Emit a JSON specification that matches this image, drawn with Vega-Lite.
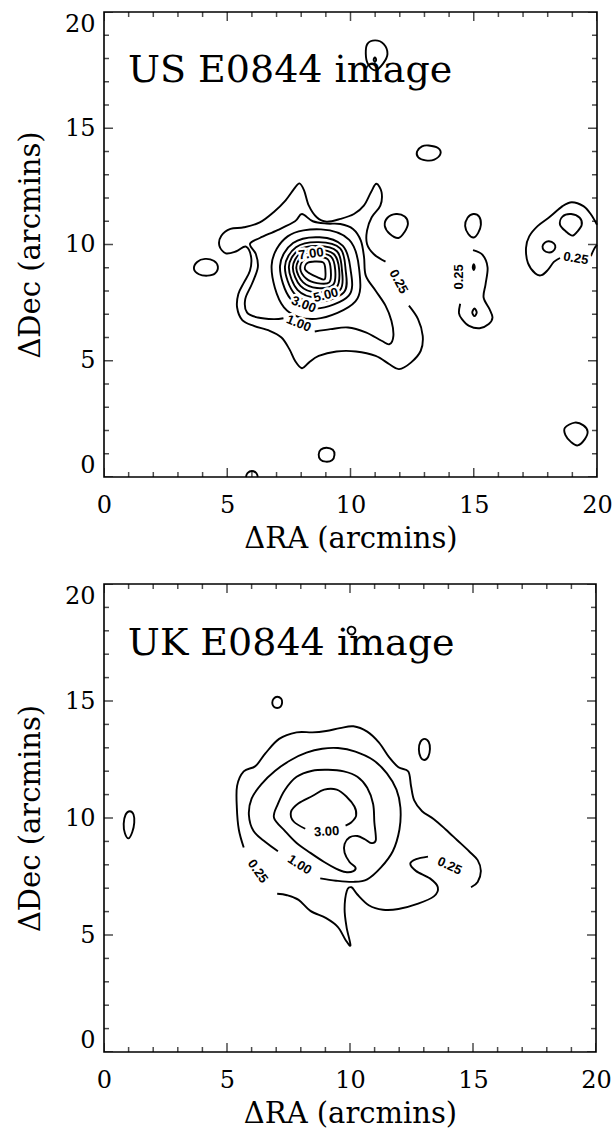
{
"$schema": "https://vega.github.io/schema/vega-lite/v6.json",
"padding": {"left": 15, "top": 11, "right": 0, "bottom": 0},
"spacing": 29,
"config": {
  "view": {"stroke": "black", "strokeWidth": 1.6},
  "axis": {"labelFont": "DejaVu Serif", "labelFontSize": 24, "titleFont": "DejaVu Serif", "titleFontSize": 29, "titleFontWeight": "normal", "labelColor": "black", "titleColor": "black", "grid": false, "labelOverlap": false, "ticks": false, "domain": false}
},
"datasets": {
  "ticks": [
    {"v":0,"k":"major"},{"v":1,"k":"minor"},{"v":2,"k":"minor"},{"v":3,"k":"minor"},{"v":4,"k":"minor"},{"v":5,"k":"major"},{"v":6,"k":"minor"},{"v":7,"k":"minor"},{"v":8,"k":"minor"},{"v":9,"k":"minor"},{"v":10,"k":"major"},{"v":11,"k":"minor"},{"v":12,"k":"minor"},{"v":13,"k":"minor"},{"v":14,"k":"minor"},{"v":15,"k":"major"},{"v":16,"k":"minor"},{"v":17,"k":"minor"},{"v":18,"k":"minor"},{"v":19,"k":"minor"},{"v":20,"k":"major"}
  ],
  "usOpen": [
    {"c":"A","i":0,"x":12.37,"y":7.37},{"c":"A","i":1,"x":12.74,"y":6.79},{"c":"A","i":2,"x":12.93,"y":6.07},{"c":"A","i":3,"x":12.85,"y":5.43},{"c":"A","i":4,"x":12.45,"y":4.92},{"c":"A","i":5,"x":11.97,"y":4.64},{"c":"A","i":6,"x":11.58,"y":4.85},{"c":"A","i":7,"x":11.02,"y":5.21},{"c":"A","i":8,"x":10.22,"y":5.40},{"c":"A","i":9,"x":9.43,"y":5.40},{"c":"A","i":10,"x":8.71,"y":5.21},{"c":"A","i":11,"x":8.31,"y":4.92},{"c":"A","i":12,"x":8.03,"y":4.68},{"c":"A","i":13,"x":7.75,"y":5.00},{"c":"A","i":14,"x":7.52,"y":5.50},{"c":"A","i":15,"x":7.20,"y":6.00},{"c":"A","i":16,"x":6.72,"y":6.29},{"c":"A","i":17,"x":6.08,"y":6.50},{"c":"A","i":18,"x":5.61,"y":6.75},{"c":"A","i":19,"x":5.40,"y":7.29},{"c":"A","i":20,"x":5.45,"y":7.87},{"c":"A","i":21,"x":5.68,"y":8.37},{"c":"A","i":22,"x":5.92,"y":8.87},{"c":"A","i":23,"x":5.97,"y":9.45},{"c":"A","i":24,"x":5.76,"y":9.91},{"c":"A","i":25,"x":5.37,"y":9.71},{"c":"A","i":26,"x":4.94,"y":9.62},{"c":"A","i":27,"x":4.68,"y":9.95},{"c":"A","i":28,"x":4.76,"y":10.38},{"c":"A","i":29,"x":5.13,"y":10.67},{"c":"A","i":30,"x":5.68,"y":10.74},{"c":"A","i":31,"x":6.32,"y":10.95},{"c":"A","i":32,"x":6.88,"y":11.39},{"c":"A","i":33,"x":7.36,"y":11.89},{"c":"A","i":34,"x":7.71,"y":12.39},{"c":"A","i":35,"x":7.93,"y":12.63},{"c":"A","i":36,"x":8.12,"y":12.32},{"c":"A","i":37,"x":8.31,"y":11.67},{"c":"A","i":38,"x":8.63,"y":11.17},{"c":"A","i":39,"x":9.03,"y":10.98},{"c":"A","i":40,"x":9.59,"y":11.10},{"c":"A","i":41,"x":10.14,"y":11.31},{"c":"A","i":42,"x":10.54,"y":11.67},{"c":"A","i":43,"x":10.83,"y":12.25},{"c":"A","i":44,"x":11.05,"y":12.61},{"c":"A","i":45,"x":11.26,"y":12.25},{"c":"A","i":46,"x":11.21,"y":11.67},{"c":"A","i":47,"x":10.86,"y":11.17},{"c":"A","i":48,"x":10.67,"y":10.60},{"c":"A","i":49,"x":10.67,"y":10.02},{"c":"A","i":50,"x":10.94,"y":9.59},{"c":"A","i":51,"x":11.42,"y":9.26},
    {"c":"B","i":0,"x":8.55,"y":6.26},{"c":"B","i":1,"x":9.19,"y":6.36},{"c":"B","i":2,"x":9.90,"y":6.43},{"c":"B","i":3,"x":10.62,"y":6.22},{"c":"B","i":4,"x":11.26,"y":5.86},{"c":"B","i":5,"x":11.58,"y":5.71},{"c":"B","i":6,"x":11.74,"y":6.07},{"c":"B","i":7,"x":11.66,"y":6.72},{"c":"B","i":8,"x":11.42,"y":7.37},{"c":"B","i":9,"x":11.02,"y":8.01},{"c":"B","i":10,"x":10.62,"y":8.66},{"c":"B","i":11,"x":10.55,"y":9.45},{"c":"B","i":12,"x":10.42,"y":10.17},{"c":"B","i":13,"x":10.10,"y":10.67},{"c":"B","i":14,"x":9.59,"y":10.88},{"c":"B","i":15,"x":9.03,"y":10.90},{"c":"B","i":16,"x":8.47,"y":11.00},{"c":"B","i":17,"x":8.03,"y":11.31},{"c":"B","i":18,"x":7.75,"y":11.00},{"c":"B","i":19,"x":7.04,"y":10.62},{"c":"B","i":20,"x":6.32,"y":10.28},{"c":"B","i":21,"x":5.92,"y":10.02},{"c":"B","i":22,"x":6.16,"y":9.59},{"c":"B","i":23,"x":6.24,"y":9.02},{"c":"B","i":24,"x":6.00,"y":8.30},{"c":"B","i":25,"x":5.73,"y":7.65},{"c":"B","i":26,"x":5.80,"y":7.08},{"c":"B","i":27,"x":6.24,"y":6.86},{"c":"B","i":28,"x":6.88,"y":6.79},{"c":"B","i":29,"x":7.28,"y":6.83},
    {"c":"T7","i":0,"x":5.76,"y":0.0},{"c":"T7","i":1,"x":5.82,"y":0.17},{"c":"T7","i":2,"x":6.0,"y":0.26},{"c":"T7","i":3,"x":6.18,"y":0.17},{"c":"T7","i":4,"x":6.24,"y":0.0},
    {"c":"T9","i":0,"x":20.0,"y":10.85},{"c":"T9","i":1,"x":19.75,"y":11.3},{"c":"T9","i":2,"x":19.45,"y":11.65},{"c":"T9","i":3,"x":18.98,"y":11.82},{"c":"T9","i":4,"x":18.6,"y":11.65},{"c":"T9","i":5,"x":18.1,"y":11.2},{"c":"T9","i":6,"x":17.6,"y":10.8},{"c":"T9","i":7,"x":17.25,"y":10.35},{"c":"T9","i":8,"x":17.12,"y":9.85},{"c":"T9","i":9,"x":17.2,"y":9.2},{"c":"T9","i":10,"x":17.5,"y":8.75},{"c":"T9","i":11,"x":17.75,"y":8.68},{"c":"T9","i":12,"x":18.0,"y":8.9},{"c":"T9","i":13,"x":18.25,"y":9.25},{"c":"T9","i":14,"x":18.5,"y":9.42},
    {"c":"T9b","i":0,"x":19.75,"y":9.5},{"c":"T9b","i":1,"x":19.88,"y":9.8},{"c":"T9b","i":2,"x":20.0,"y":9.98},
    {"c":"T12","i":0,"x":14.97,"y":9.76},{"c":"T12","i":1,"x":15.35,"y":9.56},{"c":"T12","i":2,"x":15.56,"y":9.02},{"c":"T12","i":3,"x":15.48,"y":8.30},{"c":"T12","i":4,"x":15.40,"y":7.72},{"c":"T12","i":5,"x":15.64,"y":7.22},{"c":"T12","i":6,"x":15.76,"y":6.86},{"c":"T12","i":7,"x":15.61,"y":6.58},{"c":"T12","i":8,"x":15.24,"y":6.40},{"c":"T12","i":9,"x":14.81,"y":6.50},{"c":"T12","i":10,"x":14.52,"y":6.79},{"c":"T12","i":11,"x":14.40,"y":7.05},{"c":"T12","i":12,"x":14.45,"y":7.45}
  ],
  "usClosed": [
    {"c":"T1","i":0,"x":11.0,"y":18.78},{"c":"T1","i":1,"x":11.35,"y":18.62},{"c":"T1","i":2,"x":11.5,"y":18.2},{"c":"T1","i":3,"x":11.32,"y":17.78},{"c":"T1","i":4,"x":11.0,"y":17.49},{"c":"T1","i":5,"x":10.7,"y":17.78},{"c":"T1","i":6,"x":10.62,"y":18.2},{"c":"T1","i":7,"x":10.68,"y":18.62},
    {"c":"T1d","i":0,"x":10.99,"y":18.05},{"c":"T1d","i":1,"x":11.04,"y":17.95},{"c":"T1d","i":2,"x":10.99,"y":17.85},{"c":"T1d","i":3,"x":10.94,"y":17.95},
    {"c":"T2","i":0,"x":13.17,"y":14.26},{"c":"T2","i":1,"x":13.55,"y":14.15},{"c":"T2","i":2,"x":13.65,"y":13.9},{"c":"T2","i":3,"x":13.4,"y":13.65},{"c":"T2","i":4,"x":13.05,"y":13.62},{"c":"T2","i":5,"x":12.75,"y":13.75},{"c":"T2","i":6,"x":12.7,"y":14.0},{"c":"T2","i":7,"x":12.9,"y":14.22},
    {"c":"T3","i":0,"x":11.85,"y":11.31},{"c":"T3","i":1,"x":12.2,"y":11.2},{"c":"T3","i":2,"x":12.33,"y":10.9},{"c":"T3","i":3,"x":12.2,"y":10.55},{"c":"T3","i":4,"x":11.95,"y":10.28},{"c":"T3","i":5,"x":11.6,"y":10.45},{"c":"T3","i":6,"x":11.39,"y":10.8},{"c":"T3","i":7,"x":11.5,"y":11.15},
    {"c":"T4","i":0,"x":14.98,"y":11.31},{"c":"T4","i":1,"x":15.22,"y":11.2},{"c":"T4","i":2,"x":15.29,"y":10.85},{"c":"T4","i":3,"x":15.18,"y":10.5},{"c":"T4","i":4,"x":15.0,"y":10.3},{"c":"T4","i":5,"x":14.78,"y":10.45},{"c":"T4","i":6,"x":14.65,"y":10.8},{"c":"T4","i":7,"x":14.75,"y":11.15},
    {"c":"T5","i":0,"x":4.1,"y":9.38},{"c":"T5","i":1,"x":4.45,"y":9.3},{"c":"T5","i":2,"x":4.62,"y":9.05},{"c":"T5","i":3,"x":4.5,"y":8.75},{"c":"T5","i":4,"x":4.2,"y":8.66},{"c":"T5","i":5,"x":3.85,"y":8.72},{"c":"T5","i":6,"x":3.65,"y":8.95},{"c":"T5","i":7,"x":3.78,"y":9.25},
    {"c":"T6","i":0,"x":9.03,"y":1.26},{"c":"T6","i":1,"x":9.28,"y":1.17},{"c":"T6","i":2,"x":9.35,"y":0.95},{"c":"T6","i":3,"x":9.25,"y":0.72},{"c":"T6","i":4,"x":9.0,"y":0.66},{"c":"T6","i":5,"x":8.78,"y":0.75},{"c":"T6","i":6,"x":8.71,"y":0.97},{"c":"T6","i":7,"x":8.8,"y":1.18},
    {"c":"T8","i":0,"x":19.1,"y":2.34},{"c":"T8","i":1,"x":19.45,"y":2.22},{"c":"T8","i":2,"x":19.62,"y":1.95},{"c":"T8","i":3,"x":19.5,"y":1.62},{"c":"T8","i":4,"x":19.22,"y":1.36},{"c":"T8","i":5,"x":18.95,"y":1.5},{"c":"T8","i":6,"x":18.72,"y":1.8},{"c":"T8","i":7,"x":18.7,"y":2.12},
    {"c":"T10","i":0,"x":18.95,"y":11.31},{"c":"T10","i":1,"x":19.3,"y":11.15},{"c":"T10","i":2,"x":19.38,"y":10.85},{"c":"T10","i":3,"x":19.2,"y":10.55},{"c":"T10","i":4,"x":19.0,"y":10.38},{"c":"T10","i":5,"x":18.75,"y":10.55},{"c":"T10","i":6,"x":18.5,"y":10.85},{"c":"T10","i":7,"x":18.6,"y":11.2},
    {"c":"T11","i":0,"x":18.05,"y":10.14},{"c":"T11","i":1,"x":18.25,"y":10.05},{"c":"T11","i":2,"x":18.31,"y":9.88},{"c":"T11","i":3,"x":18.2,"y":9.7},{"c":"T11","i":4,"x":18.02,"y":9.66},{"c":"T11","i":5,"x":17.85,"y":9.75},{"c":"T11","i":6,"x":17.79,"y":9.92},{"c":"T11","i":7,"x":17.88,"y":10.08},
    {"c":"T13","i":0,"x":15.0,"y":9.15},{"c":"T13","i":1,"x":15.04,"y":9.02},{"c":"T13","i":2,"x":15.0,"y":8.9},{"c":"T13","i":3,"x":14.96,"y":9.02},
    {"c":"T14","i":0,"x":15.03,"y":7.25},{"c":"T14","i":1,"x":15.12,"y":7.08},{"c":"T14","i":2,"x":15.03,"y":6.92},{"c":"T14","i":3,"x":14.94,"y":7.08},
    {"c":"L2","i":0,"x":6.8,"y":9.1},{"c":"L2","i":1,"x":7.45,"y":10.35},{"c":"L2","i":2,"x":8.8,"y":10.65},{"c":"L2","i":3,"x":9.95,"y":10.2},{"c":"L2","i":4,"x":10.35,"y":8.95},{"c":"L2","i":5,"x":10.2,"y":7.55},{"c":"L2","i":6,"x":8.6,"y":6.8},{"c":"L2","i":7,"x":7.3,"y":7.3},
    {"c":"L3","i":0,"x":7.14,"y":9.07},{"c":"L3","i":1,"x":7.67,"y":10.06},{"c":"L3","i":2,"x":8.75,"y":10.31},{"c":"L3","i":3,"x":9.68,"y":9.95},{"c":"L3","i":4,"x":10.0,"y":8.94},{"c":"L3","i":5,"x":9.93,"y":7.80},{"c":"L3","i":6,"x":8.61,"y":7.24},{"c":"L3","i":7,"x":7.57,"y":7.66},
    {"c":"L4","i":0,"x":7.34,"y":9.04},{"c":"L4","i":1,"x":7.79,"y":9.88},{"c":"L4","i":2,"x":8.71,"y":10.10},{"c":"L4","i":3,"x":9.58,"y":9.83},{"c":"L4","i":4,"x":9.8,"y":8.93},{"c":"L4","i":5,"x":9.73,"y":7.94},{"c":"L4","i":6,"x":8.62,"y":7.52},{"c":"L4","i":7,"x":7.73,"y":7.88},
    {"c":"L5","i":0,"x":7.50,"y":9.03},{"c":"L5","i":1,"x":7.88,"y":9.75},{"c":"L5","i":2,"x":8.68,"y":9.94},{"c":"L5","i":3,"x":9.45,"y":9.71},{"c":"L5","i":4,"x":9.65,"y":8.93},{"c":"L5","i":5,"x":9.58,"y":8.05},{"c":"L5","i":6,"x":8.63,"y":7.73},{"c":"L5","i":7,"x":7.85,"y":8.05},
    {"c":"L6","i":0,"x":7.66,"y":9.01},{"c":"L6","i":1,"x":7.97,"y":9.62},{"c":"L6","i":2,"x":8.65,"y":9.78},{"c":"L6","i":3,"x":9.32,"y":9.59},{"c":"L6","i":4,"x":9.54,"y":8.92},{"c":"L6","i":5,"x":9.43,"y":8.16},{"c":"L6","i":6,"x":8.63,"y":7.94},{"c":"L6","i":7,"x":7.97,"y":8.22},
    {"c":"L7","i":0,"x":7.80,"y":8.99},{"c":"L7","i":1,"x":8.05,"y":9.50},{"c":"L7","i":2,"x":8.62,"y":9.63},{"c":"L7","i":3,"x":9.20,"y":9.49},{"c":"L7","i":4,"x":9.38,"y":8.91},{"c":"L7","i":5,"x":9.29,"y":8.26},{"c":"L7","i":6,"x":8.64,"y":8.13},{"c":"L7","i":7,"x":8.08,"y":8.37},
    {"c":"L8","i":0,"x":7.96,"y":8.97},{"c":"L8","i":1,"x":8.14,"y":9.37},{"c":"L8","i":2,"x":8.59,"y":9.47},{"c":"L8","i":3,"x":9.07,"y":9.37},{"c":"L8","i":4,"x":9.20,"y":8.91},{"c":"L8","i":5,"x":9.14,"y":8.37},{"c":"L8","i":6,"x":8.64,"y":8.34},{"c":"L8","i":7,"x":8.20,"y":8.54},
    {"c":"L9","i":0,"x":8.15,"y":8.95},{"c":"L9","i":1,"x":8.25,"y":9.2},{"c":"L9","i":2,"x":8.55,"y":9.27},{"c":"L9","i":3,"x":8.9,"y":9.22},{"c":"L9","i":4,"x":8.98,"y":8.9},{"c":"L9","i":5,"x":8.95,"y":8.5},{"c":"L9","i":6,"x":8.65,"y":8.6},{"c":"L9","i":7,"x":8.35,"y":8.75}
  ],
  "usLabels": [
    {"t":"0.25","x":11.95,"y":8.4,"a":62},
    {"t":"1.00","x":7.9,"y":6.6,"a":22},
    {"t":"3.00","x":8.1,"y":7.42,"a":21},
    {"t":"5.00","x":9.0,"y":7.82,"a":-15},
    {"t":"7.00","x":8.4,"y":9.6,"a":-8},
    {"t":"0.25","x":14.4,"y":8.61,"a":-90},
    {"t":"0.25","x":19.14,"y":9.4,"a":10}
  ],
  "ukOpen": [
    {"c":"P2","i":0,"x":5.68,"y":8.74},{"c":"P2","i":1,"x":5.48,"y":9.51},{"c":"P2","i":2,"x":5.40,"y":10.44},{"c":"P2","i":3,"x":5.41,"y":11.37},{"c":"P2","i":4,"x":5.68,"y":11.99},{"c":"P2","i":5,"x":6.16,"y":12.22},{"c":"P2","i":6,"x":6.56,"y":12.76},{"c":"P2","i":7,"x":7.12,"y":13.38},{"c":"P2","i":8,"x":7.83,"y":13.66},{"c":"P2","i":9,"x":8.47,"y":13.66},{"c":"P2","i":10,"x":9.03,"y":13.72},{"c":"P2","i":11,"x":9.59,"y":13.84},{"c":"P2","i":12,"x":10.14,"y":13.92},{"c":"P2","i":13,"x":10.70,"y":13.69},{"c":"P2","i":14,"x":11.18,"y":13.22},{"c":"P2","i":15,"x":11.58,"y":12.61},{"c":"P2","i":16,"x":11.97,"y":12.17},{"c":"P2","i":17,"x":12.37,"y":11.99},{"c":"P2","i":18,"x":12.48,"y":11.37},{"c":"P2","i":19,"x":12.61,"y":10.75},{"c":"P2","i":20,"x":12.93,"y":10.29},{"c":"P2","i":21,"x":13.41,"y":9.95},{"c":"P2","i":22,"x":13.89,"y":9.51},{"c":"P2","i":23,"x":14.36,"y":9.05},{"c":"P2","i":24,"x":14.84,"y":8.58},{"c":"P2","i":25,"x":15.19,"y":8.20},{"c":"P2","i":26,"x":15.32,"y":7.73},{"c":"P2","i":27,"x":15.19,"y":7.27},{"c":"P2","i":28,"x":14.92,"y":7.04},
    {"c":"P1","i":0,"x":13.17,"y":8.35},{"c":"P1","i":1,"x":12.69,"y":8.24},{"c":"P1","i":2,"x":12.45,"y":8.04},{"c":"P1","i":3,"x":12.69,"y":7.73},{"c":"P1","i":4,"x":13.25,"y":7.42},{"c":"P1","i":5,"x":13.57,"y":7.04},{"c":"P1","i":6,"x":13.41,"y":6.65},{"c":"P1","i":7,"x":12.77,"y":6.34},{"c":"P1","i":8,"x":11.97,"y":6.11},{"c":"P1","i":9,"x":11.34,"y":6.08},{"c":"P1","i":10,"x":10.78,"y":6.26},{"c":"P1","i":11,"x":10.30,"y":6.73},{"c":"P1","i":12,"x":10.06,"y":7.04},{"c":"P1","i":13,"x":9.87,"y":6.88},{"c":"P1","i":14,"x":9.78,"y":6.11},{"c":"P1","i":15,"x":9.86,"y":5.34},{"c":"P1","i":16,"x":10.02,"y":4.56},{"c":"P1","i":17,"x":9.82,"y":4.79},{"c":"P1","i":18,"x":9.51,"y":5.34},{"c":"P1","i":19,"x":9.03,"y":5.72},{"c":"P1","i":20,"x":8.39,"y":6.03},{"c":"P1","i":21,"x":7.91,"y":6.50},{"c":"P1","i":22,"x":7.44,"y":6.70},{"c":"P1","i":23,"x":7.04,"y":6.76},
    {"c":"K1","i":0,"x":8.79,"y":7.42},{"c":"K1","i":1,"x":9.43,"y":7.32},{"c":"K1","i":2,"x":10.14,"y":7.27},{"c":"K1","i":3,"x":10.70,"y":7.38},{"c":"K1","i":4,"x":11.26,"y":7.89},{"c":"K1","i":5,"x":11.74,"y":8.58},{"c":"K1","i":6,"x":12.01,"y":9.51},{"c":"K1","i":7,"x":12.05,"y":10.44},{"c":"K1","i":8,"x":11.89,"y":11.21},{"c":"K1","i":9,"x":11.50,"y":11.91},{"c":"K1","i":10,"x":10.94,"y":12.48},{"c":"K1","i":11,"x":10.22,"y":12.84},{"c":"K1","i":12,"x":9.51,"y":12.99},{"c":"K1","i":13,"x":8.87,"y":12.96},{"c":"K1","i":14,"x":8.23,"y":12.79},{"c":"K1","i":15,"x":7.60,"y":12.48},{"c":"K1","i":16,"x":6.96,"y":12.02},{"c":"K1","i":17,"x":6.40,"y":11.45},{"c":"K1","i":18,"x":6.00,"y":10.83},{"c":"K1","i":19,"x":5.89,"y":10.13},{"c":"K1","i":20,"x":6.08,"y":9.44},{"c":"K1","i":21,"x":6.56,"y":8.97},{"c":"K1","i":22,"x":7.07,"y":8.58},
    {"c":"K3","i":0,"x":8.18,"y":9.54},{"c":"K3","i":1,"x":7.71,"y":9.85},{"c":"K3","i":2,"x":7.60,"y":10.26},{"c":"K3","i":3,"x":7.91,"y":10.63},{"c":"K3","i":4,"x":8.47,"y":10.94},{"c":"K3","i":5,"x":8.95,"y":11.21},{"c":"K3","i":6,"x":9.46,"y":11.21},{"c":"K3","i":7,"x":9.87,"y":10.90},{"c":"K3","i":8,"x":10.18,"y":10.49},{"c":"K3","i":9,"x":10.25,"y":10.10},{"c":"K3","i":10,"x":10.06,"y":9.82},{"c":"K3","i":11,"x":9.82,"y":9.67}
  ],
  "ukClosed": [
    {"c":"B1","i":0,"x":10.06,"y":18.18},{"c":"B1","i":1,"x":10.18,"y":18.12},{"c":"B1","i":2,"x":10.22,"y":18.0},{"c":"B1","i":3,"x":10.16,"y":17.88},{"c":"B1","i":4,"x":10.06,"y":17.84},{"c":"B1","i":5,"x":9.95,"y":17.89},{"c":"B1","i":6,"x":9.9,"y":18.01},{"c":"B1","i":7,"x":9.95,"y":18.13},
    {"c":"B2","i":0,"x":7.04,"y":15.18},{"c":"B2","i":1,"x":7.2,"y":15.1},{"c":"B2","i":2,"x":7.24,"y":14.93},{"c":"B2","i":3,"x":7.18,"y":14.76},{"c":"B2","i":4,"x":7.04,"y":14.7},{"c":"B2","i":5,"x":6.9,"y":14.76},{"c":"B2","i":6,"x":6.84,"y":14.93},{"c":"B2","i":7,"x":6.9,"y":15.1},
    {"c":"B3","i":0,"x":13.03,"y":13.38},{"c":"B3","i":1,"x":13.2,"y":13.25},{"c":"B3","i":2,"x":13.25,"y":12.95},{"c":"B3","i":3,"x":13.18,"y":12.62},{"c":"B3","i":4,"x":13.02,"y":12.48},{"c":"B3","i":5,"x":12.87,"y":12.6},{"c":"B3","i":6,"x":12.8,"y":12.93},{"c":"B3","i":7,"x":12.86,"y":13.25},
    {"c":"B4","i":0,"x":1.05,"y":10.29},{"c":"B4","i":1,"x":1.2,"y":10.15},{"c":"B4","i":2,"x":1.23,"y":9.8},{"c":"B4","i":3,"x":1.15,"y":9.4},{"c":"B4","i":4,"x":1.0,"y":9.13},{"c":"B4","i":5,"x":0.85,"y":9.35},{"c":"B4","i":6,"x":0.8,"y":9.75},{"c":"B4","i":7,"x":0.88,"y":10.15},
    {"c":"K2","i":0,"x":6.91,"y":10.01},{"c":"K2","i":1,"x":7.07,"y":10.60},{"c":"K2","i":2,"x":7.36,"y":11.21},{"c":"K2","i":3,"x":7.83,"y":11.76},{"c":"K2","i":4,"x":8.47,"y":12.02},{"c":"K2","i":5,"x":9.11,"y":12.06},{"c":"K2","i":6,"x":9.75,"y":11.99},{"c":"K2","i":7,"x":10.30,"y":11.76},{"c":"K2","i":8,"x":10.70,"y":11.29},{"c":"K2","i":9,"x":10.94,"y":10.60},{"c":"K2","i":10,"x":10.99,"y":9.82},{"c":"K2","i":11,"x":11.05,"y":9.05},{"c":"K2","i":12,"x":10.86,"y":8.93},{"c":"K2","i":13,"x":10.62,"y":9.08},{"c":"K2","i":14,"x":10.30,"y":9.23},{"c":"K2","i":15,"x":9.98,"y":9.17},{"c":"K2","i":16,"x":9.78,"y":8.89},{"c":"K2","i":17,"x":9.78,"y":8.51},{"c":"K2","i":18,"x":9.98,"y":8.12},{"c":"K2","i":19,"x":10.22,"y":7.89},{"c":"K2","i":20,"x":10.14,"y":7.73},{"c":"K2","i":21,"x":9.82,"y":7.69},{"c":"K2","i":22,"x":9.43,"y":7.84},{"c":"K2","i":23,"x":8.95,"y":8.12},{"c":"K2","i":24,"x":8.39,"y":8.51},{"c":"K2","i":25,"x":7.83,"y":8.93},{"c":"K2","i":26,"x":7.36,"y":9.44}
  ],
  "ukLabels": [
    {"t":"0.25","x":6.25,"y":7.72,"a":55},
    {"t":"0.25","x":14.05,"y":7.95,"a":25},
    {"t":"1.00","x":7.95,"y":8.0,"a":33},
    {"t":"3.00","x":9.05,"y":9.42,"a":-3}
  ]
},
"vconcat": [
  {
    "width": 493, "height": 465,
    "resolve": {"axis": {"x": "independent", "y": "independent"}},
    "layer": [
      {"data": {"name": "usOpen"},
       "mark": {"type": "line", "interpolate": "cardinal", "color": "black", "strokeWidth": 1.9},
       "encoding": {
         "x": {"field": "x", "type": "quantitative", "scale": {"domain": [0, 20], "nice": false, "zero": false}, "axis": {"orient": "bottom", "values": [0, 5, 10, 15, 20], "labelPadding": 16, "labelFlush": false, "title": "ΔRA (arcmins)", "titlePadding": 7}},
         "y": {"field": "y", "type": "quantitative", "scale": {"domain": [0, 20], "nice": false, "zero": false}, "axis": {"orient": "left", "values": [0, 5, 10, 15, 20], "labelPadding": 9, "labelFlush": true, "title": "ΔDec (arcmins)", "titlePadding": 19}},
         "detail": {"field": "c"},
         "order": {"field": "i", "type": "quantitative"}
       }},
      {"data": {"name": "usClosed"},
       "mark": {"type": "line", "interpolate": "cardinal-closed", "color": "black", "strokeWidth": 1.9},
       "encoding": {
         "x": {"field": "x", "type": "quantitative", "axis": null},
         "y": {"field": "y", "type": "quantitative", "axis": null},
         "detail": {"field": "c"},
         "order": {"field": "i", "type": "quantitative"}
       }},
      {"data": {"name": "ticks"},
       "mark": {"type": "tick", "orient": "vertical", "thickness": 1.5, "color": "black", "clip": true},
       "encoding": {
         "x": {"field": "v", "type": "quantitative", "axis": null},
         "y": {"datum": 0, "type": "quantitative", "axis": null},
         "size": {"field": "k", "type": "nominal", "scale": {"domain": ["major", "minor"], "range": [18, 10]}, "legend": null}
       }},
      {"data": {"name": "ticks"},
       "mark": {"type": "tick", "orient": "vertical", "thickness": 1.5, "color": "black", "clip": true},
       "encoding": {
         "x": {"field": "v", "type": "quantitative", "axis": null},
         "y": {"datum": 20, "type": "quantitative", "axis": null},
         "size": {"field": "k", "type": "nominal", "scale": {"domain": ["major", "minor"], "range": [18, 10]}, "legend": null}
       }},
      {"data": {"name": "ticks"},
       "mark": {"type": "tick", "orient": "horizontal", "thickness": 1.5, "color": "black", "clip": true},
       "encoding": {
         "y": {"field": "v", "type": "quantitative", "axis": null},
         "x": {"datum": 0, "type": "quantitative", "axis": null},
         "size": {"field": "k", "type": "nominal", "scale": {"domain": ["major", "minor"], "range": [18, 10]}, "legend": null}
       }},
      {"data": {"name": "ticks"},
       "mark": {"type": "tick", "orient": "horizontal", "thickness": 1.5, "color": "black", "clip": true},
       "encoding": {
         "y": {"field": "v", "type": "quantitative", "axis": null},
         "x": {"datum": 20, "type": "quantitative", "axis": null},
         "size": {"field": "k", "type": "nominal", "scale": {"domain": ["major", "minor"], "range": [18, 10]}, "legend": null}
       }},
      {"data": {"name": "usLabels"},
       "mark": {"type": "text", "font": "Liberation Sans", "fontWeight": "bold", "fontSize": 13, "color": "white", "stroke": "white", "strokeWidth": 5, "strokeJoin": "round", "align": "center", "baseline": "middle"},
       "encoding": {
         "x": {"field": "x", "type": "quantitative", "axis": null},
         "y": {"field": "y", "type": "quantitative", "axis": null},
         "text": {"field": "t"},
         "angle": {"field": "a", "type": "quantitative", "scale": null}
       }},
      {"data": {"name": "usLabels"},
       "mark": {"type": "text", "font": "Liberation Sans", "fontWeight": "bold", "fontSize": 13, "color": "black", "align": "center", "baseline": "middle"},
       "encoding": {
         "x": {"field": "x", "type": "quantitative", "axis": null},
         "y": {"field": "y", "type": "quantitative", "axis": null},
         "text": {"field": "t"},
         "angle": {"field": "a", "type": "quantitative", "scale": null}
       }},
      {"data": {"values": [{"t": "US E0844 image"}]},
       "mark": {"type": "text", "font": "DejaVu Serif", "fontSize": 38, "color": "black", "align": "left", "baseline": "alphabetic"},
       "encoding": {
         "x": {"datum": 0.97, "type": "quantitative", "axis": null},
         "y": {"datum": 16.97, "type": "quantitative", "axis": null},
         "text": {"field": "t"}
       }}
    ]
  },
  {
    "width": 492, "height": 468,
    "resolve": {"axis": {"x": "independent", "y": "independent"}},
    "layer": [
      {"data": {"name": "ukOpen"},
       "mark": {"type": "line", "interpolate": "cardinal", "color": "black", "strokeWidth": 1.9},
       "encoding": {
         "x": {"field": "x", "type": "quantitative", "scale": {"domain": [0, 20], "nice": false, "zero": false}, "axis": {"orient": "bottom", "values": [0, 5, 10, 15, 20], "labelPadding": 16, "labelFlush": false, "title": "ΔRA (arcmins)", "titlePadding": 7}},
         "y": {"field": "y", "type": "quantitative", "scale": {"domain": [0, 20], "nice": false, "zero": false}, "axis": {"orient": "left", "values": [0, 5, 10, 15, 20], "labelPadding": 9, "labelFlush": true, "title": "ΔDec (arcmins)", "titlePadding": 19}},
         "detail": {"field": "c"},
         "order": {"field": "i", "type": "quantitative"}
       }},
      {"data": {"name": "ukClosed"},
       "mark": {"type": "line", "interpolate": "cardinal-closed", "color": "black", "strokeWidth": 1.9},
       "encoding": {
         "x": {"field": "x", "type": "quantitative", "axis": null},
         "y": {"field": "y", "type": "quantitative", "axis": null},
         "detail": {"field": "c"},
         "order": {"field": "i", "type": "quantitative"}
       }},
      {"data": {"name": "ticks"},
       "mark": {"type": "tick", "orient": "vertical", "thickness": 1.5, "color": "black", "clip": true},
       "encoding": {
         "x": {"field": "v", "type": "quantitative", "axis": null},
         "y": {"datum": 0, "type": "quantitative", "axis": null},
         "size": {"field": "k", "type": "nominal", "scale": {"domain": ["major", "minor"], "range": [18, 10]}, "legend": null}
       }},
      {"data": {"name": "ticks"},
       "mark": {"type": "tick", "orient": "vertical", "thickness": 1.5, "color": "black", "clip": true},
       "encoding": {
         "x": {"field": "v", "type": "quantitative", "axis": null},
         "y": {"datum": 20, "type": "quantitative", "axis": null},
         "size": {"field": "k", "type": "nominal", "scale": {"domain": ["major", "minor"], "range": [18, 10]}, "legend": null}
       }},
      {"data": {"name": "ticks"},
       "mark": {"type": "tick", "orient": "horizontal", "thickness": 1.5, "color": "black", "clip": true},
       "encoding": {
         "y": {"field": "v", "type": "quantitative", "axis": null},
         "x": {"datum": 0, "type": "quantitative", "axis": null},
         "size": {"field": "k", "type": "nominal", "scale": {"domain": ["major", "minor"], "range": [18, 10]}, "legend": null}
       }},
      {"data": {"name": "ticks"},
       "mark": {"type": "tick", "orient": "horizontal", "thickness": 1.5, "color": "black", "clip": true},
       "encoding": {
         "y": {"field": "v", "type": "quantitative", "axis": null},
         "x": {"datum": 20, "type": "quantitative", "axis": null},
         "size": {"field": "k", "type": "nominal", "scale": {"domain": ["major", "minor"], "range": [18, 10]}, "legend": null}
       }},
      {"data": {"name": "ukLabels"},
       "mark": {"type": "text", "font": "Liberation Sans", "fontWeight": "bold", "fontSize": 13, "color": "white", "stroke": "white", "strokeWidth": 5, "strokeJoin": "round", "align": "center", "baseline": "middle"},
       "encoding": {
         "x": {"field": "x", "type": "quantitative", "axis": null},
         "y": {"field": "y", "type": "quantitative", "axis": null},
         "text": {"field": "t"},
         "angle": {"field": "a", "type": "quantitative", "scale": null}
       }},
      {"data": {"name": "ukLabels"},
       "mark": {"type": "text", "font": "Liberation Sans", "fontWeight": "bold", "fontSize": 13, "color": "black", "align": "center", "baseline": "middle"},
       "encoding": {
         "x": {"field": "x", "type": "quantitative", "axis": null},
         "y": {"field": "y", "type": "quantitative", "axis": null},
         "text": {"field": "t"},
         "angle": {"field": "a", "type": "quantitative", "scale": null}
       }},
      {"data": {"values": [{"t": "UK E0844 image"}]},
       "mark": {"type": "text", "font": "DejaVu Serif", "fontSize": 38, "color": "black", "align": "left", "baseline": "alphabetic"},
       "encoding": {
         "x": {"datum": 0.97, "type": "quantitative", "axis": null},
         "y": {"datum": 16.97, "type": "quantitative", "axis": null},
         "text": {"field": "t"}
       }}
    ]
  }
]
}
